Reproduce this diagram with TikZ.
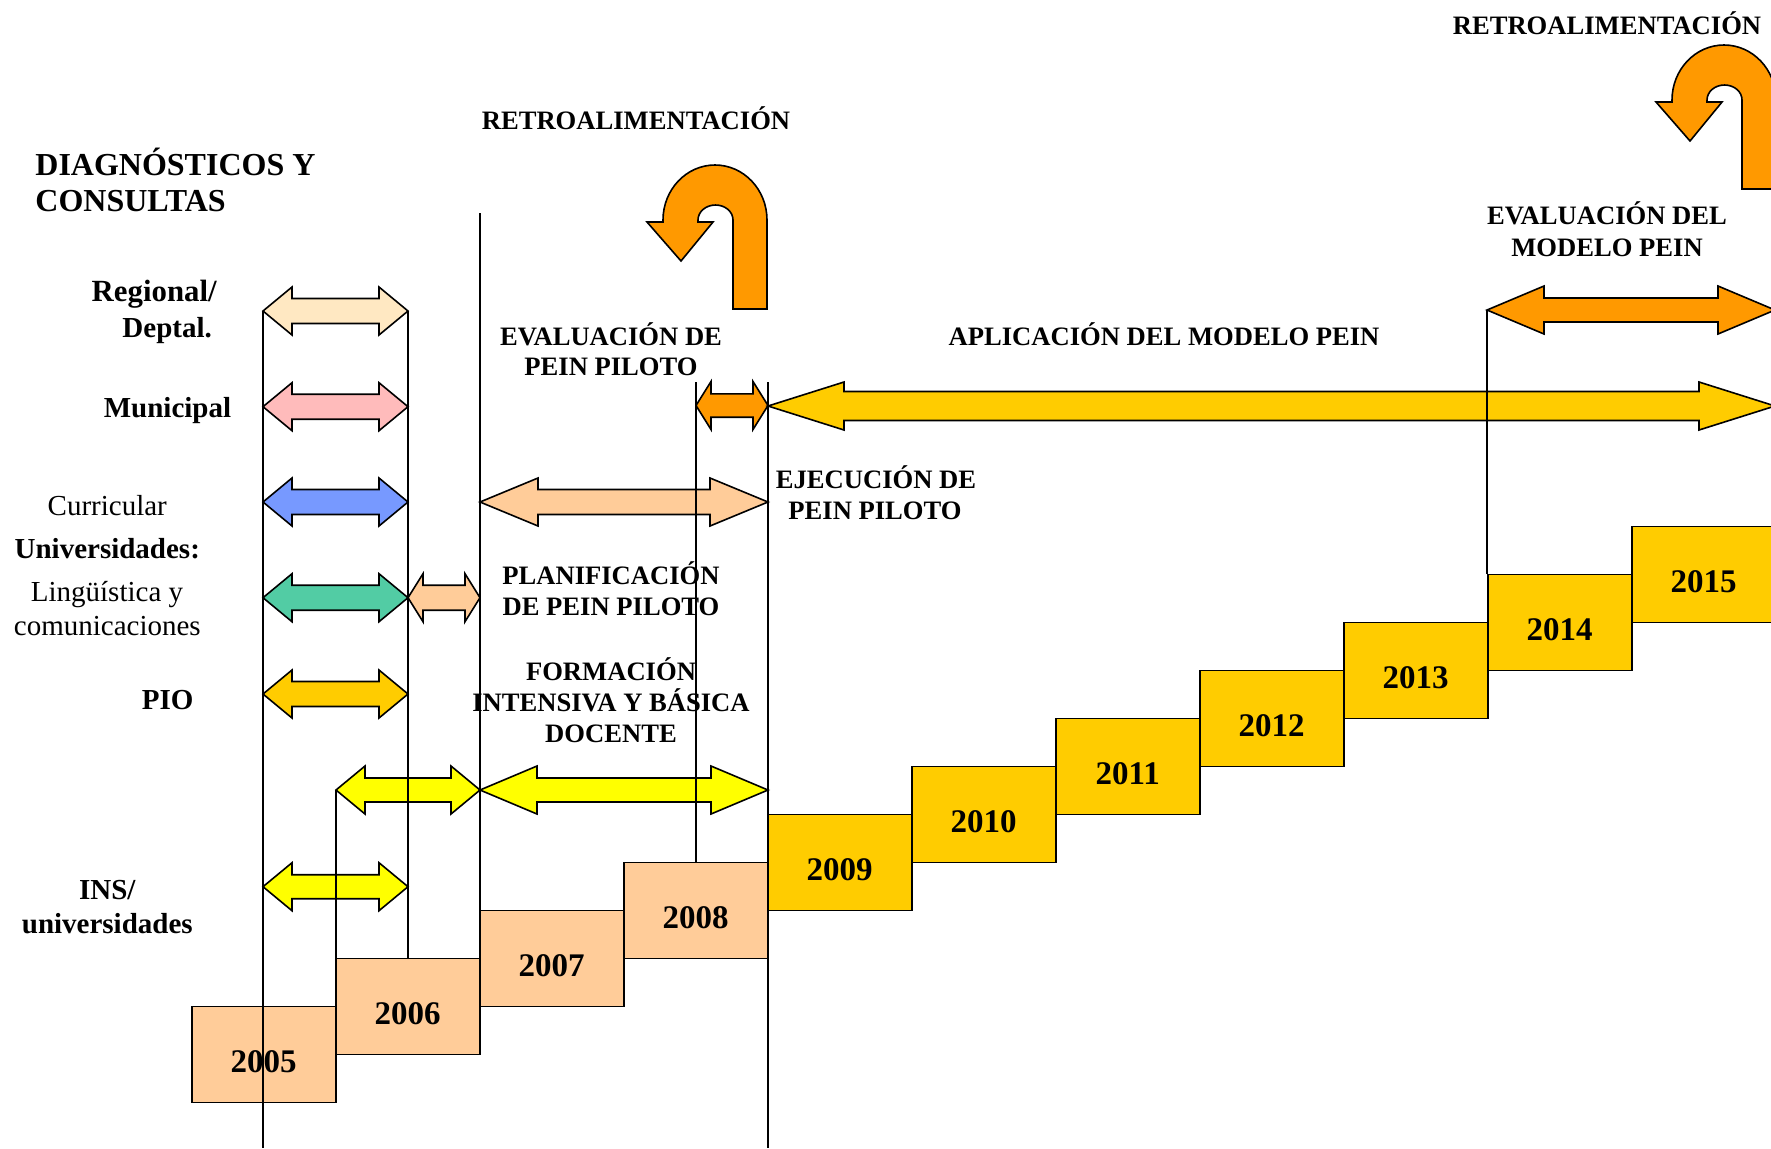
\documentclass[tikz,border=0pt]{standalone}
\usepackage{fontspec}
\setmainfont{Liberation Serif}
\definecolor{cream}{HTML}{FFE8C2}
\definecolor{pinkc}{HTML}{FFBBBB}
\definecolor{bluec}{HTML}{7799FF}
\definecolor{greenc}{HTML}{52CCA4}
\definecolor{peach}{HTML}{FFCC99}
\definecolor{gold}{HTML}{FFCC00}
\definecolor{yel}{HTML}{FFFF00}
\definecolor{orng}{HTML}{FF9900}
\newcommand\dblarrow[6]{%
  \filldraw[shp,fill=#6] (#1,#3) -- ({#1+#4},{#3-24}) -- ({#1+#4},{#3-#5}) -- ({#2-#4},{#3-#5}) -- ({#2-#4},{#3-24}) -- (#2,#3) -- ({#2-#4},{#3+24}) -- ({#2-#4},{#3+#5}) -- ({#1+#4},{#3+#5}) -- ({#1+#4},{#3+24}) -- cycle;}
\newcommand\uturnshape{%
  \filldraw[shp,fill=orng] (767,309) -- (767,220)
    .. controls (767,189.6) and (743.7,165) .. (715,165)
    .. controls (686.3,165) and (663,189.6) .. (663,220)
    -- (663,222) -- (647,222) -- (681,261) -- (713,222) -- (698,222) -- (698,220)
    .. controls (698,211.7) and (705.8,205) .. (715.5,205)
    .. controls (725.2,205) and (733,211.7) .. (733,220)
    -- (733,309) -- cycle;}
\begin{document}
\begin{tikzpicture}[x=0.5pt,y=-0.5pt,
  shp/.style={draw=black,line width=0.8pt,line join=miter},
  vline/.style={draw=black,line width=0.9pt},
  caplbl/.style={font=\fontsize{13.3}{16}\selectfont\bfseries,anchor=base,inner sep=0pt},
  lbl/.style={font=\fontsize{14.5}{17}\selectfont\bfseries,anchor=base,inner sep=0pt},
  lblr/.style={font=\fontsize{14.5}{17}\selectfont,anchor=base,inner sep=0pt},
  bigtitle/.style={font=\fontsize{16}{19}\selectfont\bfseries,anchor=base west,inner sep=0pt},
  ybox/.style={draw=black,line width=0.8pt,minimum width=72pt,minimum height=48pt,inner sep=0pt},
  ytxt/.style={font=\fontsize{16.5}{19}\selectfont\bfseries,anchor=base,inner sep=0pt}]
\useasboundingbox (0,0) rectangle (1771,1148);
\clip (0,0) rectangle (1771,1148);
\fill[white] (0,0) rectangle (1771,1148);

% year boxes
\node[ybox,fill=peach] (b2005) at (263.7,1054.5) {};
\node[ybox,fill=peach] (b2006) at (407.7,1006.5) {};
\node[ybox,fill=peach] (b2007) at (551.7,958.5) {};
\node[ybox,fill=peach] (b2008) at (695.7,910.5) {};
\node[ybox,fill=gold] (b2009) at (839.7,862.5) {};
\node[ybox,fill=gold] (b2010) at (983.7,814.5) {};
\node[ybox,fill=gold] (b2011) at (1127.7,766.5) {};
\node[ybox,fill=gold] (b2012) at (1271.7,718.5) {};
\node[ybox,fill=gold] (b2013) at (1415.7,670.5) {};
\node[ybox,fill=gold] (b2014) at (1559.7,622.5) {};
\node[ybox,fill=gold] (b2015) at (1703.7,574.5) {};
\node[ytxt] (t2005) at (263.7,1072.5) {2005};
\node[ytxt] (t2006) at (407.7,1024.5) {2006};
\node[ytxt] (t2007) at (551.7,976.5) {2007};
\node[ytxt] (t2008) at (695.7,928.5) {2008};
\node[ytxt] (t2009) at (839.7,880.5) {2009};
\node[ytxt] (t2010) at (983.7,832.5) {2010};
\node[ytxt] (t2011) at (1127.7,784.5) {2011};
\node[ytxt] (t2012) at (1271.7,736.5) {2012};
\node[ytxt] (t2013) at (1415.7,688.5) {2013};
\node[ytxt] (t2014) at (1559.7,640.5) {2014};
\node[ytxt] (t2015) at (1703.7,592.5) {2015};

% double arrows
\dblarrow{263}{408}{311}{29}{12.5}{cream}
\dblarrow{263}{408}{406.7}{29}{12.5}{pinkc}
\dblarrow{263}{408}{502}{29}{12.5}{bluec}
\dblarrow{263}{408}{597.7}{29}{12.5}{greenc}
\dblarrow{408}{480}{597.7}{15}{12.5}{peach}
\dblarrow{263}{408}{694}{29}{12.5}{gold}
\dblarrow{336}{480}{790}{29}{12}{yel}
\dblarrow{480}{768}{790}{57}{12}{yel}
\dblarrow{263}{408}{886.7}{29}{12}{yel}
\dblarrow{480}{768}{502}{58}{12.5}{peach}
\dblarrow{696}{768}{405.5}{15}{11.7}{orng}
\dblarrow{768}{1775}{406}{76}{14.5}{gold}
\dblarrow{1487}{1775}{310}{57}{12}{orng}

% U-turn arrows
\uturnshape
\begin{scope}[shift={(1009,-120)}]
\uturnshape
\end{scope}

% vertical lines
\coordinate (l1a) at (263,311);   \coordinate (l1b) at (263,1148);
\coordinate (l2a) at (408,311);
\coordinate (l3a) at (336,790);
\coordinate (l4a) at (480,213);
\coordinate (l5a) at (696,382);
\coordinate (l6a) at (768,382);   \coordinate (l6b) at (768,1148);
\coordinate (l7a) at (1487,310);
\draw[vline] (l1a) -- (l1b);
\draw[vline] (l2a) -- (l2a |- b2006.north);
\draw[vline] (l3a) -- (l3a |- b2006.north);
\draw[vline] (l4a) -- (l4a |- b2007.north);
\draw[vline] (l5a) -- (l5a |- b2008.north);
\draw[vline] (l6a) -- (l6b);
\draw[vline] (l7a) -- (l7a |- b2014.north);

% texts
\node[caplbl] (rt1) at (1607,34) {RETROALIMENTACIÓN};
\node[caplbl] (rt2) at (636,129.5) {RETROALIMENTACIÓN};
\node[bigtitle] (dg1) at (35,175) {DIAGNÓSTICOS Y};
\node[bigtitle] (dg2) at (35,211) {CONSULTAS};
\node[lbl,font=\fontsize{15.4}{18}\selectfont\bfseries] (reg) at (154.2,301.7) {Regional/};
\node[lbl] (dep) at (167.2,337.3) {Deptal.};
\node[lbl] (mun) at (167.5,417.3) {Municipal};
\node[lblr] (cur) at (107.3,515) {Curricular};
\node[lbl] (uni) at (107.3,558) {Universidades:};
\node[lblr] (lin) at (107,601) {Lingüística y};
\node[lblr] (com) at (107.3,635) {comunicaciones};
\node[lbl] (pio) at (167.7,709) {PIO};
\node[lbl] (ins) at (107.3,899) {INS/};
\node[lbl] (unv) at (107.3,933.5) {universidades};
\node[caplbl] (ev1) at (611,345) {EVALUACIÓN DE};
\node[caplbl] (ev2) at (611,375) {PEIN PILOTO};
\node[caplbl] (apl) at (1164,345) {APLICACIÓN DEL MODELO PEIN};
\node[caplbl] (em1) at (1607,224.5) {EVALUACIÓN DEL};
\node[caplbl] (em2) at (1607,256) {MODELO PEIN};
\node[caplbl] (ej1) at (876,488.5) {EJECUCIÓN DE};
\node[caplbl] (ej2) at (875,519.5) {PEIN PILOTO};
\node[caplbl] (pl1) at (611,584.5) {PLANIFICACIÓN};
\node[caplbl] (pl2) at (611,615.5) {DE PEIN PILOTO};
\node[caplbl] (fo1) at (611,680.5) {FORMACIÓN};
\node[caplbl] (fo2) at (611,711.5) {INTENSIVA Y BÁSICA};
\node[caplbl] (fo3) at (611,742.5) {DOCENTE};
\end{tikzpicture}
\end{document}
